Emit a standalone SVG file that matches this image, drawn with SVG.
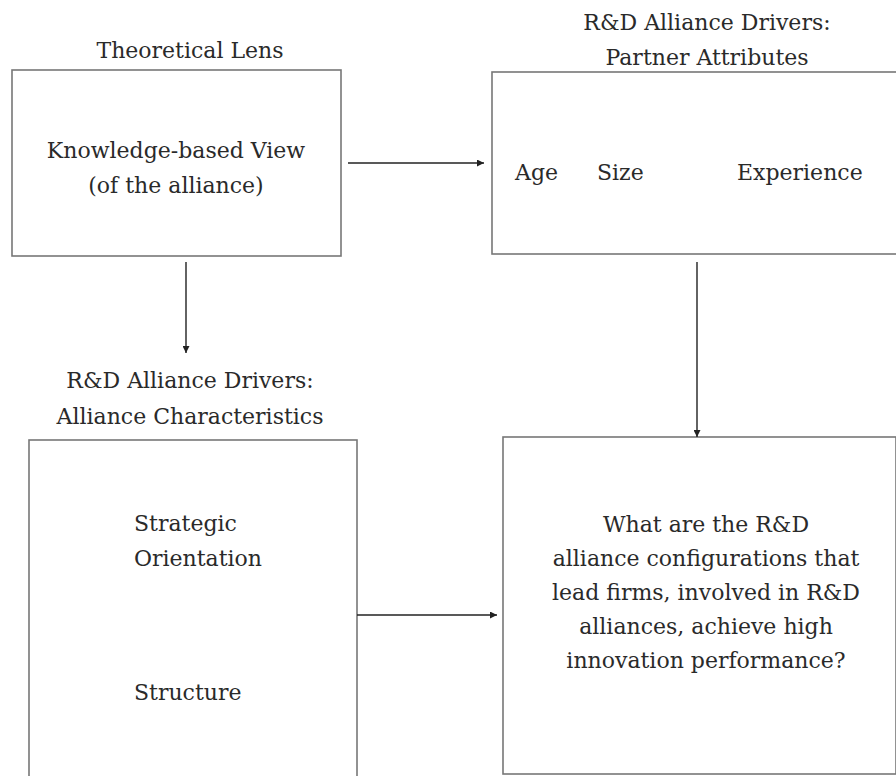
<svg xmlns="http://www.w3.org/2000/svg" width="896" height="776" viewBox="0 0 896 776">
<style>
text{font-family:"DejaVu Serif",serif;font-size:22px;fill:#2a2a2a}
.c{text-anchor:middle}
.box{fill:#fff;stroke:#777;stroke-width:1.6}
.con{stroke:#222;stroke-width:1.4;fill:none}
</style>
<defs>
<marker id="ah" viewBox="0 0 10 10" refX="10" refY="5" markerWidth="7" markerHeight="7" markerUnits="userSpaceOnUse" orient="auto">
<path d="M0,0 L10,5 L0,10 z" fill="#222"/>
</marker>
</defs>
<rect width="896" height="776" fill="#fff"/>
<g id="lens">
<text class="c" x="190" y="58">Theoretical Lens</text>
<rect class="box" x="12" y="70" width="329" height="186"/>
<text class="c" x="176" y="158">Knowledge-based View</text>
<text class="c" x="176" y="193">(of the alliance)</text>
</g>
<g id="partner">
<text class="c" x="707" y="30">R&amp;D Alliance Drivers:</text>
<text class="c" x="707" y="65">Partner Attributes</text>
<rect class="box" x="492" y="72" width="410" height="182"/>
<text x="515" y="180">Age</text>
<text x="597" y="180">Size</text>
<text x="737" y="180">Experience</text>
</g>
<g id="characteristics">
<text class="c" x="190" y="388">R&amp;D Alliance Drivers:</text>
<text class="c" x="190" y="424">Alliance Characteristics</text>
<rect class="box" x="29" y="440" width="328" height="345"/>
<text x="134" y="531">Strategic</text>
<text x="134" y="566">Orientation</text>
<text x="134" y="700">Structure</text>
</g>
<g id="question">
<rect class="box" x="503" y="437" width="393" height="337"/>
<text class="c" x="706" y="532">What are the R&amp;D</text>
<text class="c" x="706" y="566">alliance configurations that</text>
<text class="c" x="706" y="600">lead firms, involved in R&amp;D</text>
<text class="c" x="706" y="634">alliances, achieve high</text>
<text class="c" x="706" y="668">innovation performance?</text>
</g>
<g id="connectors">
<line class="con" x1="348" y1="163" x2="484" y2="163" marker-end="url(#ah)"/>
<line class="con" x1="186" y1="262" x2="186" y2="353" marker-end="url(#ah)"/>
<line class="con" x1="697" y1="262" x2="697" y2="437" marker-end="url(#ah)"/>
<line class="con" x1="357" y1="615" x2="497" y2="615" marker-end="url(#ah)"/>
</g>
</svg>
